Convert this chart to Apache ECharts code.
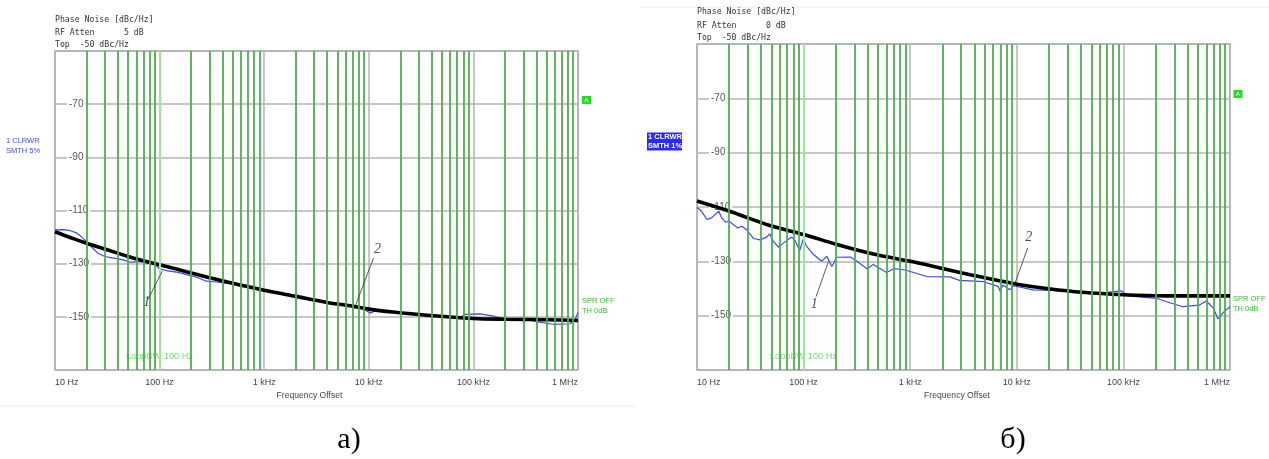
<!DOCTYPE html>
<html><head><meta charset="utf-8">
<script src="https://cdn.jsdelivr.net/npm/echarts@6/dist/echarts.min.js"></script>
<style>html,body{margin:0;padding:0;background:#fff}#c{width:1269px;height:459px}</style>
</head><body><div id="c"></div>
<script>
// ---- axis ticks ----
const xTicks = [10, 100, 1000, 10000, 100000, 1000000];
const xTickLabels = ['10 Hz', '100 Hz', '1 kHz', '10 kHz', '100 kHz', '1 MHz'];
const yTicks = [-170, -150, -130, -110, -90, -70, -50];
const minorMultipliers = [2, 3, 4, 5, 6, 7, 8, 9];
const loopBW = 100;

// ---- left chart (a) ----
const leftMeasured = [[10,-117.3],[12,-117.2],[14,-117.6],[16,-118.4],[18,-120],[20,-121.6],[23,-124.2],[26,-126.2],[30,-127.3],[35,-127.8],[40,-128.2],[46,-128.7],[52,-129.4],[60,-129.3],[70,-129.3],[80,-129.7],[90,-130.2],[100,-132],[120,-132.7],[150,-133.3],[185,-134.2],[230,-135.2],[280,-136.6],[350,-136.9],[500,-137.7],[700,-138.9],[1000,-140.3],[1500,-141.6],[2000,-142.6],[3000,-143.9],[5000,-145.3],[7000,-146.3],[9000,-147.1],[10300,-148.6],[11500,-147.8],[15000,-147.6],[20000,-148.4],[30000,-149.2],[42000,-149.7],[60000,-150.1],[75000,-150.2],[83000,-149.1],[115000,-148.9],[157000,-149.7],[180000,-150.6],[330000,-150.9],[410000,-151.9],[580000,-152.8],[840000,-152.6],[940000,-151],[1000000,-148.4]];
const leftModel = [[10,-118],[15,-120.6],[20,-122.3],[30,-124.5],[50,-127.3],[70,-128.9],[100,-130.4],[200,-133.5],[500,-137.4],[1000,-140],[2000,-142.3],[4000,-144.6],[7000,-146],[10000,-147.1],[17000,-148.2],[36000,-149.4],[100000,-150.6],[200000,-150.9],[500000,-151.1],[1000000,-151.4]];
const leftLeaders = [[[77.7,-143.4],[106,-132.8]], [[11120,-127.8],[7430,-145.9]]];
const leftNumbers = [[75.2,-144.7,'1'], [12130,-124.7,'2']];

// ---- right chart (б) ----
const rightMeasured = [[10,-110.2],[11,-111.5],[12.4,-114.6],[13.7,-114],[16,-111.5],[17,-114],[18.5,-115.6],[20,-115.2],[22,-116.5],[24,-117.7],[26.4,-117.1],[29.4,-118.5],[34,-121.6],[39,-122.1],[45,-121.1],[48,-119.9],[52,-122.6],[58,-124.8],[65,-123.2],[72,-121.9],[77,-121.1],[83,-122.3],[92,-126],[99,-121.9],[106,-124.3],[124,-127.5],[148,-130],[165,-128.1],[184,-131.9],[205,-128.5],[274,-128.4],[316,-130],[393,-132.7],[450,-131.2],[600,-134.1],[700,-132.7],[900,-133.2],[1430,-135.6],[2370,-135.7],[2900,-137],[4900,-137.5],[6700,-139.3],[7000,-141.1],[7400,-138.7],[8600,-140.5],[9300,-139],[14200,-140.5],[29000,-140.9],[60000,-141.7],[96000,-140.9],[110000,-142.7],[205000,-143.6],[250000,-144.8],[360000,-146.7],[516000,-146.1],[600000,-144.6],[700000,-147.3],[770000,-151.2],[880000,-148.5],[1000000,-146.7]];
const rightModel = [[10,-107.8],[20,-111.5],[30,-114],[52,-117.2],[100,-120.1],[205,-123.8],[450,-127.3],[1000,-130],[1660,-131.9],[3400,-134.7],[7000,-137.2],[10000,-138.4],[20000,-140.1],[41000,-141.4],[100000,-142.3],[250000,-142.7],[1000000,-142.7]];
const rightLeaders = [[[131,-143],[171,-130]], [[12650,-125.1],[9620,-138]]];
const rightNumbers = [[126,-146,'1'], [12940,-121,'2']];

// minor grid positions (2..9 x each decade)
const minorGrid = [];
xTicks.slice(0, -1).forEach(d => minorMultipliers.forEach(m => { if (m * d !== loopBW) minorGrid.push(m * d); }));

const GREEN = '#4fae4f', GREY = '#b4b4b4';
const chart = echarts.init(document.getElementById('c'), null, {renderer: 'canvas'});

function xAxisFor(gi) {
  return {
    type: 'log', logBase: 10, min: 10, max: 1000000, gridIndex: gi,
    axisLine: {show: false}, axisTick: {show: false},
    splitLine: {show: true, lineStyle: {color: GREY, width: 1.5}},
    axisLabel: {
      margin: 8, color: '#444', fontSize: 9, fontFamily: 'Liberation Sans',
      alignMinLabel: 'left', alignMaxLabel: 'right',
      formatter: v => { const i = xTicks.findIndex(t => Math.abs(t - v) / t < 1e-6); return i >= 0 ? xTickLabels[i] : ''; }
    }
  };
}
function yAxisFor(gi) {
  return {
    type: 'value', min: yTicks[0], max: yTicks[yTicks.length - 1], interval: 20, gridIndex: gi,
    axisLine: {show: false}, axisTick: {show: false},
    splitLine: {show: true, lineStyle: {color: GREY, width: 1.5}},
    axisLabel: {
      inside: true, margin: 12, color: '#555', fontSize: 10, fontFamily: 'Liberation Sans',
      backgroundColor: '#fff', padding: [0, 2],
      showMinLabel: false, showMaxLabel: false
    }
  };
}
function seriesFor(gi, measured, model, leaders, numbers) {
  const s = [];
  s.push({
    type: 'line', xAxisIndex: gi, yAxisIndex: gi, data: [], z: 1, silent: true,
    markLine: {
      silent: true, symbol: 'none', animation: false, label: {show: false},
      data: minorGrid.map(f => ({xAxis: f, lineStyle: {color: GREEN, width: 1.8, type: 'solid'}}))
        .concat([{xAxis: loopBW, lineStyle: {color: '#9be89b', width: 2, type: 'solid'}}])
    }
  });
  s.push({type: 'line', xAxisIndex: gi, yAxisIndex: gi, data: measured, showSymbol: false, z: 3,
    lineStyle: {color: '#3a48f0', width: 1.2}, animation: false});
  s.push({type: 'line', xAxisIndex: gi, yAxisIndex: gi, data: model, showSymbol: false, smooth: 0.3, z: 4,
    lineStyle: {color: '#000', width: 3.6}, animation: false});
  leaders.forEach(l => s.push({type: 'line', xAxisIndex: gi, yAxisIndex: gi, data: l, showSymbol: false, z: 5,
    lineStyle: {color: '#333', width: 0.8}, animation: false}));
  s.push({type: 'scatter', xAxisIndex: gi, yAxisIndex: gi, data: numbers, symbolSize: 1, z: 6,
    itemStyle: {color: 'rgba(0,0,0,0)'}, animation: false,
    label: {show: true, position: 'inside', formatter: p => p.value[2], color: '#222',
      fontFamily: 'Liberation Serif', fontStyle: 'italic', fontSize: 14}});
  return s;
}

const T = (x, y, text, font, fill, align) => ({type: 'text', x, y, silent: true,
  style: {text, font, fill, textAlign: align || 'left', textVerticalAlign: 'middle'}});
const mono = '8.2px "DejaVu Sans Mono"';
const small = '7.5px "Liberation Sans"';

chart.setOption({
  animation: false,
  backgroundColor: '#fff',
  grid: [
    {left: 55, top: 51, width: 523, height: 319, show: true, borderColor: '#a8a8a8', borderWidth: 1.5, backgroundColor: '#fff'},
    {left: 697, top: 44, width: 533, height: 326, show: true, borderColor: '#a8a8a8', borderWidth: 1.5, backgroundColor: '#fff'}
  ],
  xAxis: [xAxisFor(0), xAxisFor(1)],
  yAxis: [yAxisFor(0), yAxisFor(1)],
  series: seriesFor(0, leftMeasured, leftModel, leftLeaders, leftNumbers)
    .concat(seriesFor(1, rightMeasured, rightModel, rightLeaders, rightNumbers)),
  graphic: [
    {type: 'line', silent: true, shape: {x1: 0, y1: 406, x2: 635, y2: 406}, style: {stroke: '#ececec', lineWidth: 1}},
    {type: 'line', silent: true, shape: {x1: 640, y1: 7, x2: 1269, y2: 7}, style: {stroke: '#ececec', lineWidth: 1}},
    // left header
    T(55, 19.5, 'Phase Noise [dBc/Hz]', mono, '#333'),
    T(55, 33, 'RF Atten      5 dB', mono, '#333'),
    T(55, 45.3, 'Top  -50 dBc/Hz', mono, '#333'),
    T(6, 141, '1 CLRWR', small, '#3b4cff'),
    T(6, 151, 'SMTH 5%', small, '#3b4cff'),
    {type: 'rect', silent: true, shape: {x: 582, y: 96, width: 9, height: 8}, style: {fill: '#22dd22'}},
    T(586.5, 100.2, 'A', 'bold 6px "Liberation Sans"', '#d8ffd8', 'center'),
    T(582, 301, 'SPR OFF', small, '#22cc22'),
    T(582, 311, 'TH 0dB', small, '#22cc22'),
    T(126, 356.5, 'LoopBW 100 Hz', '9.2px "Liberation Sans"', '#66e866'),
    T(309.5, 396, 'Frequency Offset', '8.6px "Liberation Sans"', '#444', 'center'),
    // right header
    T(697, 12.3, 'Phase Noise [dBc/Hz]', mono, '#333'),
    T(697, 25.7, 'RF Atten      0 dB', mono, '#333'),
    T(697, 38.3, 'Top  -50 dBc/Hz', mono, '#333'),
    {type: 'rect', silent: true, shape: {x: 647, y: 132.5, width: 35, height: 18}, style: {fill: '#2a2aff'}},
    T(648, 137, '1 CLRWR', 'bold ' + small, '#fff'),
    T(648, 146, 'SMTH 1%', 'bold ' + small, '#fff'),
    {type: 'rect', silent: true, shape: {x: 1233.5, y: 90, width: 9, height: 8}, style: {fill: '#22dd22'}},
    T(1238, 94.2, 'A', 'bold 6px "Liberation Sans"', '#d8ffd8', 'center'),
    T(1233, 298.5, 'SPR OFF', small, '#22cc22'),
    T(1233, 308.5, 'TH 0dB', small, '#22cc22'),
    T(770, 356, 'LoopBW 100 Hz', '9.2px "Liberation Sans"', '#66e866'),
    T(957, 396, 'Frequency Offset', '8.6px "Liberation Sans"', '#444', 'center'),
    // captions
    T(349, 440, 'а)', '30px "Liberation Serif"', '#000', 'center'),
    T(1013, 440, 'б)', '30px "Liberation Serif"', '#000', 'center')
  ]
});
</script></body></html>
